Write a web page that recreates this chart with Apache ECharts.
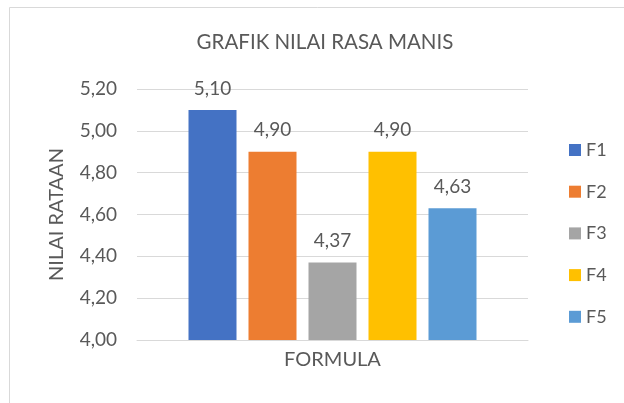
<!DOCTYPE html>
<html>
<head>
<meta charset="utf-8">
<script src="https://cdn.jsdelivr.net/npm/echarts@6/dist/echarts.min.js"></script>
<style>
  html, body { margin: 0; padding: 0; background: #fff; }
  #chart { width: 624px; height: 403px; }
</style>
</head>
<body>
<div id="chart"></div>
<script>
// data
const categories = ['FORMULA'];
const seriesNames = ['F1', 'F2', 'F3', 'F4', 'F5'];
const seriesValues = [5.10, 4.90, 4.37, 4.90, 4.63];
const seriesColors = ['#4472C4', '#ED7D31', '#A5A5A5', '#FFC000', '#5B9BD5'];

const chart = echarts.init(document.getElementById('chart'), null, { renderer: 'canvas' });
const FONT = 'Lato';
const TXT = '#595959';

// angka pakai koma
const koma = v => v.toFixed(2).replace('.', ',');

const series = seriesNames.map((name, i) => ({
  name: name,
  type: 'bar',
  data: [seriesValues[i]],
  barWidth: 48,
  barGap: '25%',
  itemStyle: { color: seriesColors[i] },
  label: {
    show: true,
    position: 'top',
    distance: 12,
    color: TXT,
    fontFamily: FONT,
    fontSize: 19,
    formatter: p => koma(p.value)
  },
  animation: false
}));

const option = {
  backgroundColor: '#fff',
  title: {
    text: 'GRAFIK NILAI RASA MANIS',
    left: 320,
    textAlign: 'center',
    top: 27,
    textStyle: { color: TXT, fontFamily: FONT, fontSize: 20.5, fontWeight: 'normal' }
  },
  legend: {
    orient: 'vertical',
    left: 564,
    top: 136,
    itemWidth: 12,
    itemHeight: 12,
    itemGap: 23.7,
    icon: 'rect',
    textStyle: { color: TXT, fontFamily: FONT, fontSize: 18 },
    data: seriesNames
  },
  grid: { left: 137, right: 96, top: 89, bottom: 63 },
  xAxis: {
    type: 'category',
    data: categories,
    axisLine: { show: true, lineStyle: { color: '#D9D9D9', width: 1 } },
    axisTick: { show: false },
    axisLabel: { show: true, color: TXT, fontFamily: FONT, fontSize: 20, margin: 10 }
  },
  yAxis: {
    type: 'value',
    min: 4.0,
    max: 5.2,
    interval: 0.2,
    name: 'NILAI RATAAN',
    nameLocation: 'middle',
    nameGap: 70,
    nameTextStyle: { color: TXT, fontFamily: FONT, fontSize: 20 },
    axisLine: { show: false },
    axisTick: { show: false },
    axisLabel: { color: TXT, fontFamily: FONT, fontSize: 19, margin: 20, formatter: v => koma(v) },
    splitLine: { lineStyle: { color: '#D9D9D9', width: 1 } }
  },
  graphic: [{
    type: 'rect',
    shape: { x: 9.5, y: 7.5, width: 700, height: 500 },
    style: { fill: 'none', stroke: '#D9D9D9', lineWidth: 1 },
    silent: true,
    z: -1
  }],
  series: series
};

chart.setOption(option);
</script>
</body>
</html>
